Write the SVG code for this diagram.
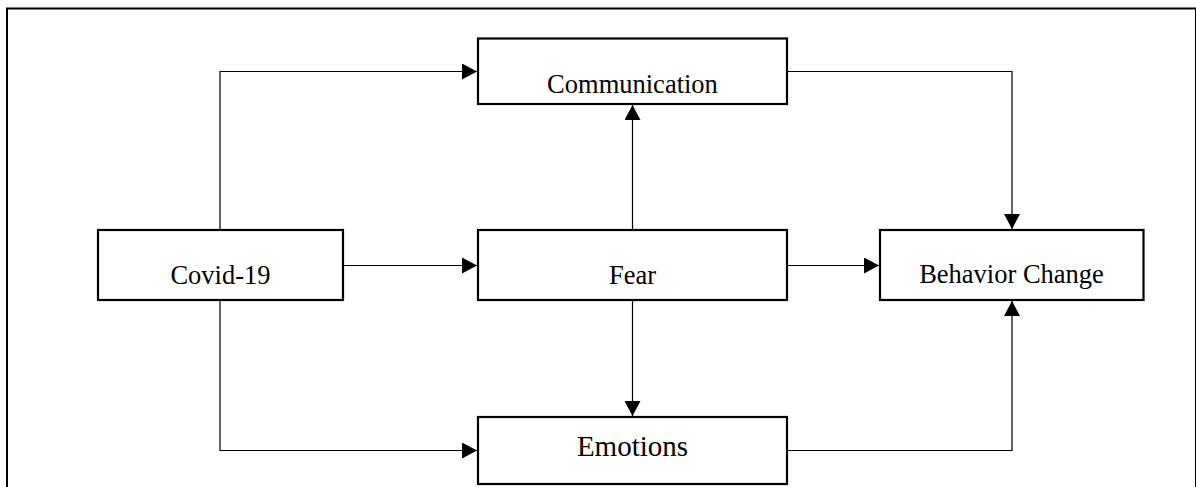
<svg xmlns="http://www.w3.org/2000/svg" width="1196" height="487" viewBox="0 0 1196 487">
<style>
.box{fill:#fff;stroke:#000;stroke-width:2.2}
.lbl{font-family:"Liberation Serif","Times New Roman",serif;font-size:26.5px;fill:#000;text-anchor:middle}
.big{font-size:29px}
.con{fill:none;stroke:#000;stroke-width:1.2}
</style>
<defs>
<marker id="ah" markerUnits="userSpaceOnUse" markerWidth="16" markerHeight="16" viewBox="0 0 16 16" refX="15" refY="8" orient="auto">
<path d="M0,0 L15,8 L0,16 Z" fill="#000"/>
</marker>
</defs>
<rect x="7" y="8.5" width="1189" height="500" fill="#fff" stroke="#000" stroke-width="2"/>
<g id="connectors">
<path class="con" d="M220,230 V71.5 H477" marker-end="url(#ah)"/>
<path class="con" d="M343,265.5 H477" marker-end="url(#ah)"/>
<path class="con" d="M220,300 V450.5 H477" marker-end="url(#ah)"/>
<path class="con" d="M632.5,230 V105" marker-end="url(#ah)"/>
<path class="con" d="M632.5,300 V416" marker-end="url(#ah)"/>
<path class="con" d="M787,265.5 H879" marker-end="url(#ah)"/>
<path class="con" d="M787,71.5 H1012 V229" marker-end="url(#ah)"/>
<path class="con" d="M787,450.5 H1012 V301" marker-end="url(#ah)"/>
</g>
<g id="communication">
<rect class="box" x="478" y="38.5" width="309" height="65.5"/>
<text class="lbl" x="632.5" y="92.5">Communication</text>
</g>
<g id="covid">
<rect class="box" x="98" y="230" width="245" height="70"/>
<text class="lbl" x="220.5" y="284">Covid-19</text>
</g>
<g id="fear">
<rect class="box" x="478" y="230" width="309" height="70"/>
<text class="lbl" x="632.5" y="284">Fear</text>
</g>
<g id="behavior">
<rect class="box" x="880" y="230" width="263.5" height="70"/>
<text class="lbl" x="1011.5" y="283">Behavior Change</text>
</g>
<g id="emotions">
<rect class="box" x="478" y="417" width="309" height="67"/>
<text class="lbl big" x="632.5" y="456">Emotions</text>
</g>
</svg>
